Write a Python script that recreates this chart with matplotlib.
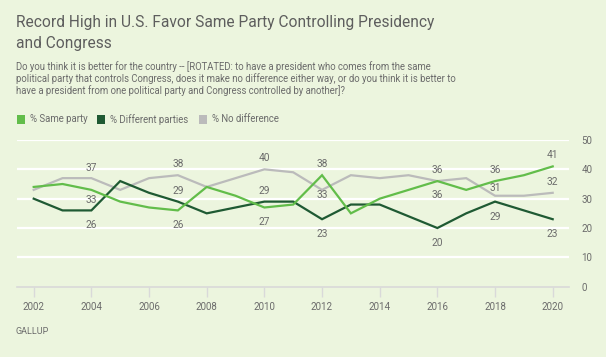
import matplotlib
matplotlib.use("Agg")
import matplotlib.pyplot as plt
from matplotlib.patches import Rectangle
from matplotlib.transforms import offset_copy

years = list(range(2002, 2021))
same_party = [34, 35, 33, 29, 27, 26, 34, 31, 27, 28, 38, 25, 30, 33, 36, 33, 36, 38, 41]
diff_parties = [30, 26, 26, 36, 32, 29, 25, 27, 29, 29, 23, 28, 28, 24, 20, 25, 29, 26, 23]
no_difference = [33, 37, 37, 33, 37, 38, 34, 37, 40, 39, 33, 38, 37, 38, 36, 37, 31, 31, 32]

series_names = ["% Same party", "% Different parties", "% No difference"]
x_ticks = list(range(2002, 2021, 2))
y_ticks = [0, 10, 20, 30, 40, 50]

# years that carry a value label (same for all three series)
label_years = [2004, 2007, 2010, 2012, 2016, 2018, 2020]

BG = "#ECF5DE"
TXT = "#6b6b6b"
colors = ["#62BD4A", "#1F5A33", "#BBBBBB"]

W, H = 606, 357
fig = plt.figure(figsize=(W / 100, H / 100), dpi=100, facecolor=BG)
plt.rcParams["font.family"] = ["Roboto", "DejaVu Sans"]


def px(x, y):
    return x / W, 1 - y / H


ax = fig.add_axes([17 / W, 70.3 / H, (569 - 17) / W, (286.7 - 140) / H])
ax.set_facecolor(BG)
ax.set_xlim(2002 - 16.7 / 28.83, 2020 + 16.3 / 28.83)
ax.set_ylim(0, 50)

for v in y_ticks[1:]:
    ax.axhline(v, color="white", lw=1.6, zorder=1)

all_series = [same_party, diff_parties, no_difference]
# gray at the back, light green on top
for i, z in [(2, 3), (1, 4), (0, 5)]:
    ax.plot(years, all_series[i], color=colors[i], lw=1.6, zorder=z,
            solid_joinstyle="miter")

for s in ["top", "right", "left"]:
    ax.spines[s].set_visible(False)
ax.spines["bottom"].set_color("#d9d9d9")
ax.spines["bottom"].set_linewidth(1.2)

ax.set_xticks(x_ticks)
ax.set_xticklabels([str(t) for t in x_ticks])
ax.tick_params(axis="x", length=7, width=1, color="#d9d9d9", labelsize=7, labelcolor=TXT, pad=4)
ax.yaxis.tick_right()
ax.set_yticks(y_ticks)
ax.tick_params(axis="y", length=0, labelsize=7, labelcolor=TXT, pad=9)

# label offsets in pixels (positive = above the point)
offsets = {
    (0, 2004): -10.4, (0, 2007): -14.6, (0, 2010): -15, (0, 2012): 11,
    (0, 2016): -14, (0, 2018): 11, (0, 2020): 11,
    (1, 2004): -14.6, (1, 2007): 10.6, (1, 2010): 10.6, (1, 2012): -15,
    (1, 2016): -14.7, (1, 2018): -15, (1, 2020): -15,
    (2, 2004): 10.5, (2, 2007): 11, (2, 2010): 11, (2, 2012): -5.5,
    (2, 2016): 11, (2, 2018): 7.5, (2, 2020): 11,
}
for i in range(3):
    for yr in label_years:
        val = all_series[i][years.index(yr)]
        tr = offset_copy(ax.transData, fig=fig, x=0, y=offsets[(i, yr)], units="dots")
        ax.text(yr, val, str(val), transform=tr, ha="center", va="center",
                fontsize=7.3, color=TXT, zorder=6)

# title and subtitle
fig.text(*px(16, 23), "Record High in U.S. Favor Same Party Controlling Presidency",
         fontsize=11.2, color="#5e5e5e", va="center", ha="left")
fig.text(*px(16, 43.5), "and Congress", fontsize=11.2, color="#5e5e5e", va="center", ha="left")
sub = ["Do you think it is better for the country -- [ROTATED: to have a president who comes from the same",
       "political party that controls Congress, does it make no difference either way, or do you think it is better to",
       "have a president from one political party and Congress controlled by another]?"]
for k, line in enumerate(sub):
    fig.text(*px(16, 67 + 11.7 * k), line, fontsize=6.85, color=TXT, va="center", ha="left")

# legend
leg_x = [17, 97, 199]
for i, name in enumerate(series_names):
    x0 = leg_x[i]
    fig.patches.append(Rectangle(px(x0, 123.5), 8 / W, 8 / H, transform=fig.transFigure,
                                 facecolor=colors[i], edgecolor="none"))
    fig.text(*px(x0 + 12.5, 119.5), name, fontsize=6.9, color=TXT, va="center", ha="left")

fig.text(*px(16, 332), "GALLUP", fontsize=6.5, color=TXT, va="center", ha="left")

fig.savefig("out.png", dpi=100, facecolor=BG)
